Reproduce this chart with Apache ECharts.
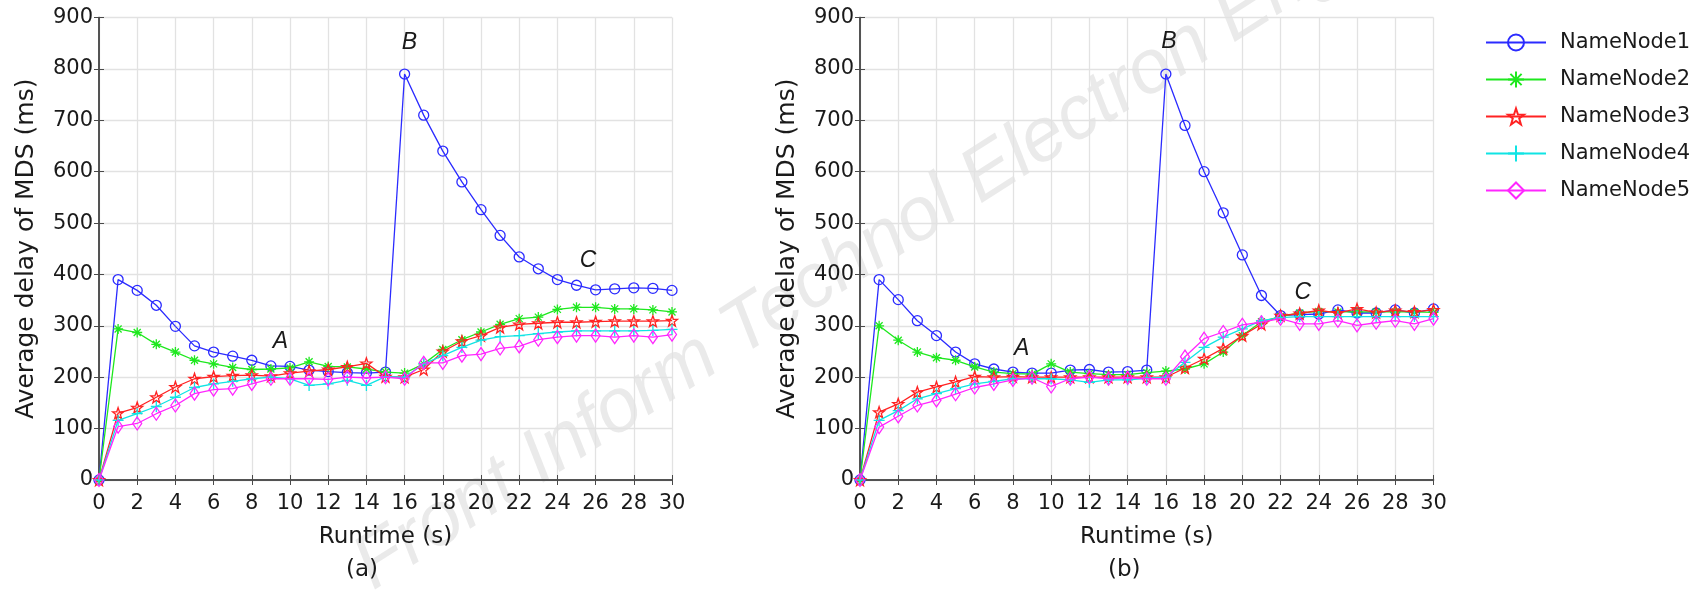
<!DOCTYPE html>
<html>
<head>
<meta charset="utf-8">
<script src="https://cdn.jsdelivr.net/npm/echarts@6/dist/echarts.min.js"></script>
<style>
  html, body { margin: 0; padding: 0; background: #fff; }
  #chart { width: 1707px; height: 592px; }
</style>
</head>
<body>
<div id="chart"></div>
<script>
// runtime (s)
var runtime = [0, 1, 2, 3, 4, 5, 6, 7, 8, 9, 10, 11, 12, 13, 14, 15, 16, 17, 18, 19, 20, 21, 22, 23, 24, 25, 26, 27, 28, 29, 30];

var nodeNames = ["NameNode1", "NameNode2", "NameNode3", "NameNode4", "NameNode5"];

// (a) average delay of MDS (ms)
var nn1a = [0, 390, 369, 340, 299, 261, 249, 241, 233, 222, 221, 214, 211, 209, 208, 210, 790, 710, 640, 580, 526, 476, 434, 411, 390, 379, 370, 372, 374, 373, 369];
var nn2a = [0, 294, 287, 264, 249, 233, 226, 219, 215, 216, 218, 230, 221, 220, 216, 210, 208, 226, 254, 273, 288, 303, 314, 317, 332, 336, 336, 333, 333, 331, 327];
var nn3a = [0, 130, 141, 161, 181, 197, 201, 203, 204, 202, 208, 212, 215, 220, 227, 201, 200, 215, 250, 270, 281, 297, 303, 305, 307, 307, 308, 309, 309, 309, 310];
var nn4a = [0, 116, 129, 143, 161, 180, 187, 192, 197, 200, 197, 184, 187, 194, 184, 201, 200, 226, 242, 258, 272, 279, 281, 285, 288, 290, 290, 290, 290, 291, 293];
var nn5a = [0, 104, 110, 129, 145, 168, 176, 178, 187, 197, 197, 197, 196, 200, 199, 200, 197, 228, 228, 242, 245, 256, 260, 273, 278, 281, 281, 278, 281, 278, 283];

// (b) average delay of MDS (ms)
var nn1b = [0, 390, 351, 310, 281, 249, 226, 216, 210, 208, 208, 214, 215, 210, 211, 214, 790, 690, 600, 520, 438, 359, 320, 322, 323, 331, 325, 325, 331, 325, 333];
var nn2b = [0, 300, 272, 249, 238, 233, 220, 210, 207, 206, 226, 210, 207, 205, 205, 209, 212, 216, 226, 249, 281, 308, 318, 325, 328, 327, 327, 327, 327, 327, 326];
var nn3b = [0, 132, 148, 171, 181, 191, 201, 200, 201, 200, 200, 200, 200, 200, 200, 200, 200, 218, 236, 256, 281, 303, 320, 324, 330, 325, 333, 326, 330, 327, 331];
var nn4b = [0, 116, 135, 158, 168, 178, 187, 192, 197, 197, 197, 195, 190, 195, 195, 198, 200, 229, 258, 278, 294, 310, 316, 318, 318, 318, 318, 318, 318, 318, 318];
var nn5b = [0, 103, 124, 145, 155, 167, 180, 187, 195, 199, 182, 197, 200, 197, 199, 197, 197, 240, 275, 288, 302, 307, 314, 304, 304, 310, 301, 306, 310, 304, 314];

// point labels A / B / C  [text, runtime, delay]
var notesA = [["A", 9.5, 269], ["B", 16.25, 852], ["C", 25.6, 427]];
var notesB = [["A", 8.46, 255], ["B", 16.16, 853], ["C", 23.16, 365]];

var xTicks = { min: 0, max: 30, interval: 2 };
var yTicks = { min: 0, max: 900, interval: 100 };

var FONT = "DejaVu Sans";
var AXIS = "#4a4a4a";
var colors = ["#2b2bff", "#1ee81e", "#ff2222", "#10e4e4", "#ff26ff"];
var symbols = [
  "circle",
  "path://M0,-10L0,10M-10,0L10,0M-7,-7L7,7M-7,7L7,-7",
  "path://M0,-10L2.35,-3.24L9.51,-3.09L3.8,1.24L5.88,8.09L0,4L-5.88,8.09L-3.8,1.24L-9.51,-3.09L-2.35,-3.24Z",
  "path://M0,-10L0,10M-10,0L10,0",
  "diamond"
];
var symbolSizes = [10, 10, 11, 11, [9, 13]];

function pairs(values) {
  return runtime.map(function (t, i) { return [t, values[i]]; });
}

function xAxes(gi) {
  return [
    {
      gridIndex: gi, type: "value", min: xTicks.min, max: xTicks.max, interval: xTicks.interval,
      name: "Runtime (s)", nameLocation: "middle", nameGap: 46,
      nameTextStyle: { fontFamily: FONT, fontSize: 23, color: "#1a1a1a" },
      axisLine: { lineStyle: { color: AXIS, width: 1.5 } },
      axisTick: { inside: true, length: 5, lineStyle: { color: AXIS } },
      axisLabel: { fontFamily: FONT, fontSize: 21, color: "#1a1a1a", margin: 13 },
      splitLine: { show: true, lineStyle: { color: "#e2e2e2", width: 1.3 } }
    },
    {
      gridIndex: gi, type: "value", position: "top", min: xTicks.min, max: xTicks.max, interval: xTicks.interval,
      axisLine: { lineStyle: { color: AXIS, width: 1.5 } },
      axisTick: { inside: true, length: 5, lineStyle: { color: AXIS } },
      axisLabel: { show: false },
      splitLine: { show: false }
    }
  ];
}

function yAxes(gi) {
  return [
    {
      gridIndex: gi, type: "value", min: yTicks.min, max: yTicks.max, interval: yTicks.interval,
      name: "Average delay of MDS (ms)", nameLocation: "middle", nameGap: 60,
      nameTextStyle: { fontFamily: FONT, fontSize: 25, color: "#1a1a1a" },
      axisLine: { show: true, lineStyle: { color: AXIS, width: 1.5 } },
      axisTick: { show: true, inside: true, length: 5, lineStyle: { color: AXIS } },
      axisLabel: { fontFamily: FONT, fontSize: 21, color: "#1a1a1a", margin: 6 },
      splitLine: { show: true, lineStyle: { color: "#e2e2e2", width: 1.3 } }
    },
    {
      gridIndex: gi, type: "value", position: "right", min: yTicks.min, max: yTicks.max, interval: yTicks.interval,
      axisLine: { show: true, lineStyle: { color: AXIS, width: 1.5 } },
      axisTick: { show: true, inside: true, length: 5, lineStyle: { color: AXIS } },
      axisLabel: { show: false },
      splitLine: { show: false }
    }
  ];
}

function makeSeries(lists, axisBase, notes) {
  return lists.map(function (vals, k) {
    var s = {
      name: nodeNames[k],
      type: "line",
      xAxisIndex: axisBase,
      yAxisIndex: axisBase,
      data: pairs(vals),
      symbol: symbols[k],
      symbolSize: symbolSizes[k],
      showAllSymbol: true,
      color: colors[k],
      lineStyle: { color: colors[k], width: 1.3 },
      itemStyle: { color: "rgba(0,0,0,0)", borderColor: colors[k], borderWidth: 1.3 },
      z: 3 + k
    };
    if (k === 0) {
      s.markPoint = {
        symbol: "rect",
        symbolSize: 1,
        itemStyle: { color: "rgba(0,0,0,0)" },
        label: {
          show: true, position: "inside", formatter: "{b}",
          fontFamily: "Liberation Sans", fontStyle: "italic", fontSize: 23, color: "#1a1a1a"
        },
        data: notes.map(function (n) { return { name: n[0], coord: [n[1], n[2]] }; })
      };
    }
    return s;
  });
}

var chart = echarts.init(document.getElementById("chart"));

var option = {
  animation: false,
  backgroundColor: "#ffffff",
  grid: [
    { left: 99, top: 17.5, width: 573, height: 462.5 },
    { left: 860, top: 17.5, width: 573.5, height: 462.5 }
  ],
  xAxis: xAxes(0).concat(xAxes(1)),
  yAxis: yAxes(0).concat(yAxes(1)),
  legend: {
    data: nodeNames,
    orient: "vertical",
    left: 1480,
    top: 27,
    itemWidth: 60,
    itemHeight: 20,
    itemGap: 16,
    lineStyle: { width: 2 },
    textStyle: { fontFamily: FONT, fontSize: 21, color: "#1a1a1a", padding: [0, 0, 0, 9] }
  },
  graphic: [
    {
      type: "text", x: 382, y: 605, rotation: 0.567, z: -1, silent: true,
      style: {
        text: "Front Inform Technol Electron Eng",
        font: 'italic 76px "Liberation Sans"',
        fill: "rgba(150,150,150,0.2)",
        textVerticalAlign: "bottom"
      }
    },
    {
      type: "text", left: 346, top: 559,
      style: { text: "(a)", font: '23px "DejaVu Sans"', fill: "#1a1a1a" }
    },
    {
      type: "text", left: 1108, top: 559,
      style: { text: "(b)", font: '23px "DejaVu Sans"', fill: "#1a1a1a" }
    }
  ],
  series: makeSeries([nn1a, nn2a, nn3a, nn4a, nn5a], 0, notesA)
    .concat(makeSeries([nn1b, nn2b, nn3b, nn4b, nn5b], 2, notesB))
};

chart.setOption(option);
</script>
</body>
</html>
